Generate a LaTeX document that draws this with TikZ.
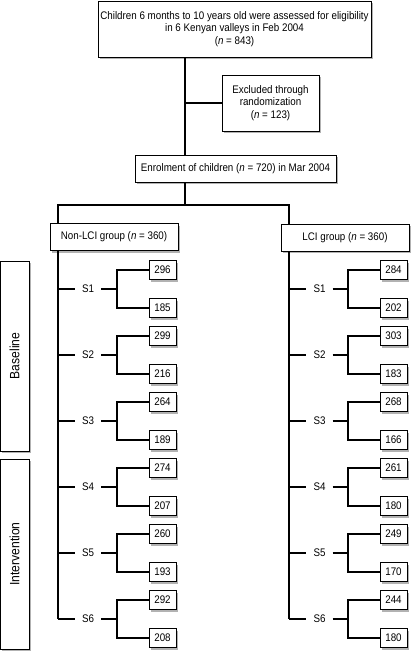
\documentclass[tikz,border=0pt]{standalone}
\usepackage{fontspec}
\setsansfont{Liberation Sans}[FakeStretch=0.89]
\newfontfamily\sidefont{Liberation Sans}[FakeStretch=0.9]
\usetikzlibrary{shadows}

\begin{document}
\begin{tikzpicture}[x=1pt,y=-1pt,
  font=\sffamily\fontsize{11}{12.3}\selectfont,
  line width=1.1pt,
  box/.style={draw,rectangle,line width=0.8pt,fill=white,inner sep=0pt,align=center,
    drop shadow={shadow xshift=2pt,shadow yshift=-2pt,opacity=1,fill=black!30}},
  numbox/.style={box,minimum width=27pt,minimum height=19pt},
  sidebox/.style={box,minimum width=29pt,minimum height=190pt,
    font=\sidefont\fontsize{13.5}{14}\selectfont},
  slabel/.style={inner sep=0pt,minimum width=25pt}]
\useasboundingbox (0,0) rectangle (415,655);

\node (top) at (234.5,29)
  [box,minimum width=273pt,minimum height=56pt]
  {Children 6 months to 10 years old were assessed for eligibility\\
   in 6 Kenyan valleys in Feb 2004\\ (\textit{n} = 843)};
\node (excl) at (270.5,103)
  [box,minimum width=97pt,minimum height=56pt]
  {Excluded through\\ randomization\\ (\textit{n} = 123)};
\node (enrol) at (235.5,168.5)
  [box,minimum width=201pt,minimum height=27pt]
  {Enrolment of children (\textit{n} = 720) in Mar 2004};
\node (nonlci) at (114,237)
  [box,minimum width=128pt,minimum height=27pt]
  {Non-LCI group (\textit{n} = 360)};
\node (lci) at (345,237.5)
  [box,minimum width=128pt,minimum height=27pt]
  {LCI group (\textit{n} = 360)};
\node (base) at (14.5,356) [sidebox] {\rotatebox{90}{Baseline}};
\node (interv) at (14.5,554) [sidebox] {\rotatebox{90}{Intervention}};

\coordinate (split) at (185,205);
\coordinate (trunkl) at (58,205);
\coordinate (trunkr) at (289,205);

\draw (top.south -| split) -- (enrol.north -| split);
\draw (excl.west) -- (excl.west -| split);
\draw (enrol.south -| split) -- (split);
\draw (nonlci.north -| trunkl) -- (trunkl) -- (trunkr) -- (lci.north -| trunkr);

% sessions S1..S6, left and right group
\foreach \i/\a/\b/\c/\d in {1/296/185/284/202, 2/299/216/303/183,
    3/264/189/268/166, 4/274/207/261/180, 5/260/193/249/170,
    6/292/208/244/180} {
  \pgfmathsetmacro\y{289+66*(\i-1)}
  \node (sl\i) at (88,\y) [slabel] {S\i};
  \coordinate (bl\i) at (117,\y);
  \node (la\i) at (162.5,\y-19) [numbox] {\a};
  \node (lb\i) at (162.5,\y+19) [numbox] {\b};
  \draw (sl\i.west -| trunkl) -- (sl\i.west);
  \draw (sl\i.east) -- (bl\i);
  \draw (la\i.west) -| (bl\i) |- (lb\i.west);
  \node (sr\i) at (319.5,\y) [slabel] {S\i};
  \coordinate (br\i) at (348,\y);
  \node (ra\i) at (393.5,\y-19) [numbox] {\c};
  \node (rb\i) at (393.5,\y+19) [numbox] {\d};
  \draw (sr\i.west -| trunkr) -- (sr\i.west);
  \draw (sr\i.east) -- (br\i);
  \draw (ra\i.west) -| (br\i) |- (rb\i.west);
}
\draw (nonlci.south -| trunkl) -- (sl6.west -| trunkl);
\draw (lci.south -| trunkr) -- (sr6.west -| trunkr);
\end{tikzpicture}
\end{document}
